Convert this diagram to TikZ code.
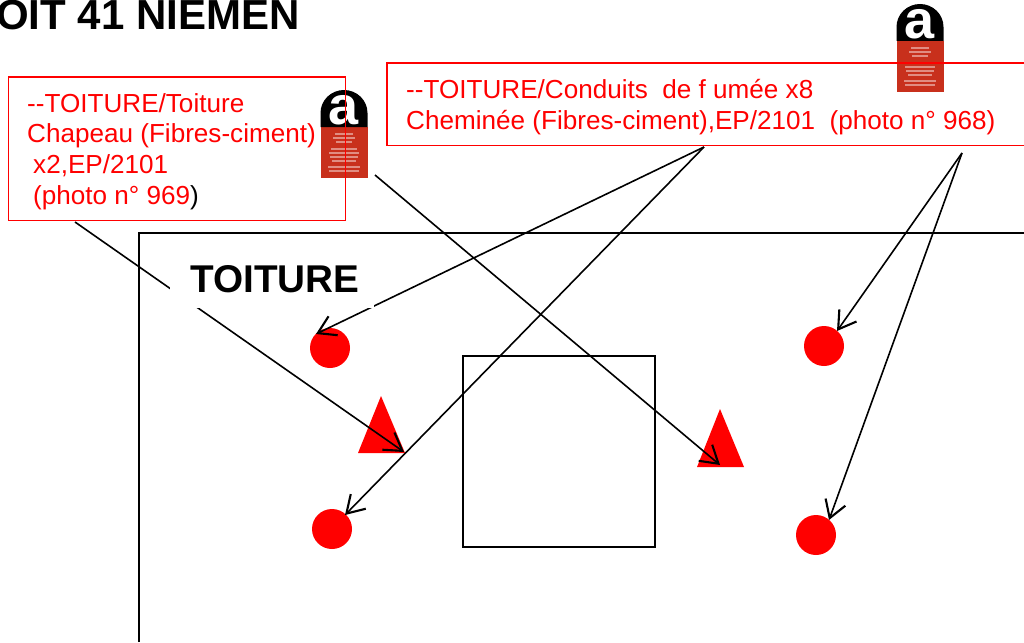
\documentclass[tikz,border=0pt]{standalone}
\usepackage{fontspec}
\setmainfont{Liberation Sans}
\usetikzlibrary{arrows.meta}
\definecolor{logored}{RGB}{200,48,28}
\tikzset{
  x=1pt,y=-1pt,
  leader/.style={draw=black,line width=1.6pt,-{Straight Barb[length=17pt,width=21pt,line width=2.1pt]}},
  frameline/.style={draw=black,line width=1.6pt},
  notebox/.style={draw=red,line width=1.7pt,anchor=north west,inner sep=0pt},
  redtext/.style={text=red,font=\fontsize{26.1}{30.8}\selectfont,align=left,anchor=north west,inner sep=0pt},
  marker/.style={circle,fill=red,inner sep=0pt,minimum size=40pt},
  bigtitle/.style={font=\fontsize{38.7}{38.7}\selectfont\bfseries,text=black,anchor=base west,inner sep=0pt},
}
\newcommand{\asblogo}[2]{%
  \begin{scope}[shift={(#1,#2)}]
    \fill[logored] (0,37) rectangle (47,88);
    \fill[black] (0,37) -- (0,23) arc[start angle=180,end angle=0,x radius=23.5pt,y radius=23pt] -- (47,37) -- cycle;
    \node[text=white,inner sep=0pt,font=\fontsize{54}{54}\selectfont\bfseries] at (23.5,20) {a};
    \foreach \yy/\ww in {44/9,48/11,52/8,59/13,63/15,67/14,71/12,77/16,81/15}
      \draw[white!45!logored,line width=1.4pt] (23.5-\ww,\yy) -- (23.5+\ww,\yy);
  \end{scope}}
\begin{document}
\begin{tikzpicture}
\useasboundingbox (0,0) rectangle (1024,642);
\clip (0,0) rectangle (1024,642);
\fill[white] (0,0) rectangle (1024,642);
% frame and inner square
\draw[frameline] (139,642) -- (139,233) -- (1024,233);
\node[draw=black,line width=1.7pt,minimum width=192pt,minimum height=191pt,inner sep=0pt,anchor=north west] (square) at (462,355) {};
% markers
\node[marker] (c1) at (330,348) {};
\node[marker] (c2) at (824,346) {};
\node[marker] (c3) at (332,529) {};
\node[marker] (c4) at (816,535) {};
\fill[red] (381,396) -- (358,453) -- (405,453) -- cycle;
\fill[red] (720,409) -- (697,467) -- (744,467) -- cycle;
% logos
\asblogo{320.5}{90}
\asblogo{896.5}{4}
% boxes
\node[notebox,minimum width=337pt,minimum height=143.5pt] (box1) at (7.7,76) {};
\node[notebox,minimum width=640pt,minimum height=82.5pt] (box2) at (386,62) {};
% free ends
\coordinate (a1s) at (75,222);
\coordinate (a1e) at (404,452);
\coordinate (a2s) at (375,175);
\coordinate (a2e) at (720,465);
\coordinate (a3s) at (704,147);
\coordinate (a3e) at (316,334);
\coordinate (a4e) at (345,515);
\coordinate (a5s) at (962,153);
\coordinate (a5e) at (837,331);
\coordinate (a6e) at (829,520);
% connectors
\draw[leader] (a1s) -- (a1e);
\draw[leader] (a2s) -- (a2e);
\draw[leader] (a3s) -- (a3e);
\draw[leader] (a3s) -- (a4e);
\draw[leader] (a5s) -- (a5e);
\draw[leader] (a5s) -- (a6e);
% texts
\fill[white] (170,252) rectangle (374,308);
\node[bigtitle] (toit) at (190,292) {TOITURE};
\node[bigtitle,font=\fontsize{42}{42}\selectfont\bfseries] (title) at (-4,30) {OIT 41 NIEMEN};
\node[redtext] (t1) at (27,93) {{-}{-}TOITURE/Toiture\\Chapeau (Fibres-ciment)\\ \hspace*{6pt}x2,EP/2101\\ \hspace*{6pt}(photo n° 969\textcolor{black}{)}};
\node[redtext] (t2) at (406,79) {{-}{-}TOITURE/Conduits\ \ de f umée x8\\Cheminée (Fibres-ciment),EP/2101\ \ (photo n° 968)};
\end{tikzpicture}
\end{document}
